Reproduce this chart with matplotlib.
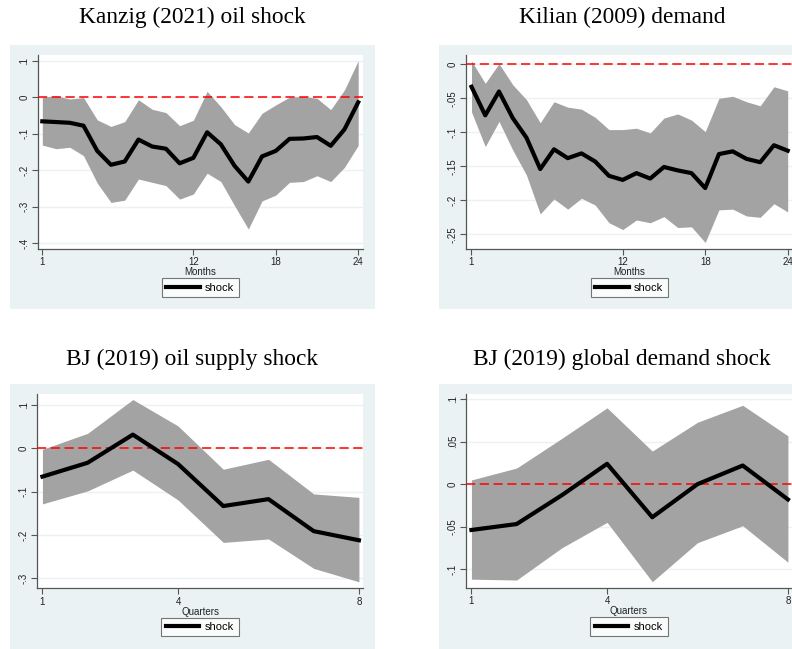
import matplotlib.pyplot as plt
from matplotlib.patches import Rectangle

W, H = 792, 649

# Kanzig (2021) oil shock, months 1..24
months = list(range(1, 25))
kanzig_irf = [-0.066, -0.068, -0.070, -0.078, -0.147, -0.185, -0.176, -0.116, -0.135, -0.141, -0.181, -0.166,
              -0.096, -0.129, -0.188, -0.231, -0.162, -0.147, -0.114, -0.113, -0.109, -0.133, -0.088, -0.014]
kanzig_hi = [0.000, 0.004, -0.005, -0.001, -0.062, -0.080, -0.067, -0.007, -0.033, -0.042, -0.078, -0.063,
             0.016, -0.026, -0.075, -0.098, -0.044, -0.021, 0.000, 0.002, -0.003, -0.034, 0.020, 0.100]
kanzig_lo = [-0.131, -0.141, -0.137, -0.160, -0.235, -0.288, -0.282, -0.224, -0.233, -0.242, -0.279, -0.265,
             -0.208, -0.231, -0.297, -0.361, -0.284, -0.268, -0.233, -0.231, -0.215, -0.231, -0.192, -0.132]

# Kilian (2009) demand, months 1..24
kilian_irf = [-0.033, -0.075, -0.040, -0.079, -0.108, -0.154, -0.125, -0.138, -0.131, -0.143, -0.164, -0.170,
              -0.160, -0.168, -0.151, -0.156, -0.160, -0.182, -0.132, -0.128, -0.139, -0.144, -0.119, -0.127]
kilian_hi = [0.005, -0.028, 0.001, -0.030, -0.052, -0.086, -0.055, -0.063, -0.066, -0.078, -0.096, -0.096,
             -0.094, -0.101, -0.079, -0.073, -0.082, -0.099, -0.050, -0.047, -0.055, -0.061, -0.033, -0.039]
kilian_lo = [-0.070, -0.121, -0.084, -0.126, -0.163, -0.220, -0.198, -0.213, -0.197, -0.207, -0.233, -0.243,
             -0.229, -0.233, -0.224, -0.240, -0.239, -0.262, -0.214, -0.213, -0.223, -0.225, -0.205, -0.217]

# BJ (2019), quarters 1..8
quarters = list(range(1, 9))
bj_supply_irf = [-0.065, -0.033, 0.032, -0.036, -0.133, -0.117, -0.191, -0.212]
bj_supply_hi = [-0.002, 0.035, 0.113, 0.052, -0.048, -0.025, -0.105, -0.113]
bj_supply_lo = [-0.128, -0.098, -0.050, -0.119, -0.217, -0.209, -0.277, -0.308]

bj_demand_irf = [-0.054, -0.047, -0.013, 0.024, -0.039, 0.000, 0.022, -0.018]
bj_demand_hi = [0.005, 0.019, 0.054, 0.090, 0.039, 0.073, 0.093, 0.057]
bj_demand_lo = [-0.112, -0.113, -0.075, -0.045, -0.115, -0.069, -0.049, -0.092]

BG = '#eaf2f3'
BAND = '#a3a3a3'


def px_box(x0, y0, x1, y1):
    return [x0 / W, 1 - y1 / H, (x1 - x0) / W, (y1 - y0) / H]


def fmt(v):
    if abs(v) < 1e-9:
        return '0'
    s = '%g' % v
    return s.replace('0.', '.')


fig = plt.figure(figsize=(W / 100, H / 100), dpi=100)
fig.patch.set_facecolor('white')

panels = [
    ('Kanzig (2021) oil shock', (10, 45, 375, 309), (37.5, 55, 363, 249),
     months, kanzig_irf, kanzig_lo, kanzig_hi, 'Months', [1, 12, 18, 24], (0.65, 24.35),
     [0.1, 0, -0.1, -0.2, -0.3, -0.4], (-0.4156, 0.1156)),
    ('Kilian (2009) demand', (439, 45, 805, 309), (466, 55, 792.5, 249),
     months, kilian_irf, kilian_lo, kilian_hi, 'Months', [1, 12, 18, 24], (0.6, 24.35),
     [0, -0.05, -0.1, -0.15, -0.2, -0.25], (-0.2716, 0.0137)),
    ('BJ (2019) oil supply shock', (10, 384, 375, 649), (37, 393.5, 363, 588.3),
     quarters, bj_supply_irf, bj_supply_lo, bj_supply_hi, 'Quarters', [1, 4, 8], (0.88, 8.09),
     [0.1, 0, -0.1, -0.2, -0.3], (-0.323, 0.127)),
    ('BJ (2019) global demand shock', (439, 384, 805, 649), (466, 394, 792, 588),
     quarters, bj_demand_irf, bj_demand_lo, bj_demand_hi, 'Quarters', [1, 4, 8], (0.88, 8.09),
     [0.1, 0.05, 0, -0.05, -0.1], (-0.1224, 0.1063)),
]

for title, bg, ab, x, irf, lo, hi, xlab, xt, xl, yt, yl in panels:
    # panel background
    fig.patches.append(Rectangle((bg[0] / W, 1 - bg[3] / H), (bg[2] - bg[0]) / W, (bg[3] - bg[1]) / H,
                                 transform=fig.transFigure, facecolor=BG, edgecolor='none', zorder=-5))
    fig.text((bg[0] + bg[2]) / 2 / W, 1 - 23 / H if bg[1] < 100 else 1 - 365 / H, title,
             ha='center', va='baseline', fontsize=16.8, family='Liberation Serif')

    ax = fig.add_axes(px_box(*ab))
    ax.set_zorder(2)
    ax.set_facecolor('white')
    ax.fill_between(x, lo, hi, color=BAND, linewidth=0, zorder=2)
    ax.plot(x, irf, color='black', linewidth=3, zorder=4, label='shock')
    ax.axhline(0, color='red', linestyle=(0, (6, 3)), linewidth=1.1, zorder=3)

    ax.set_xlim(*xl)
    ax.set_ylim(*yl)
    ax.set_xticks(xt)
    ax.set_yticks(yt)
    ax.set_yticklabels([fmt(v) for v in yt], rotation=90, va='center')
    ax.grid(axis='y', color=BG, linewidth=1.0, zorder=1)
    ax.set_axisbelow(True)
    for s in ['top', 'right']:
        ax.spines[s].set_visible(False)
    for s in ['left', 'bottom']:
        ax.spines[s].set_color('#555555')
        ax.spines[s].set_linewidth(0.9)
    ax.tick_params(colors='#555555', labelcolor='#222222', labelsize=7, length=4, width=0.8, pad=2)
    for lab in ax.get_xticklabels() + ax.get_yticklabels():
        lab.set_family('Liberation Sans')
    ax.set_xlabel(xlab, fontsize=7, family='Liberation Sans', labelpad=0, color='#222222')

    leg = ax.legend(loc='upper center', bbox_to_anchor=(0.5, -0.15), frameon=True, fancybox=False,
                    handlelength=3.0, prop={'family': 'Liberation Sans', 'size': 8},
                    borderpad=0.4, handletextpad=0.5, borderaxespad=0)
    leg.get_frame().set_edgecolor('#555555')
    leg.get_frame().set_linewidth(0.8)

fig.savefig('out.png', dpi=100)
